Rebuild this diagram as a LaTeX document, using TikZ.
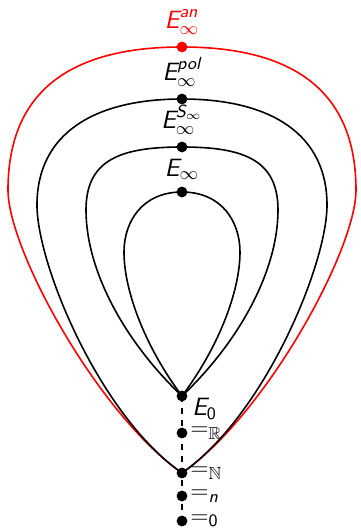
\documentclass[tikz,border=0pt]{standalone}
\usepackage{amsmath,amssymb}
\usepackage{tikz}
\usetikzlibrary{positioning}
\newcommand{\sv}[1]{\text{\sffamily\slshape #1}}
\newcommand{\su}[1]{\text{\sffamily #1}}
\tikzset{
  curve/.style={
    thick
  },
  lbl/.style={
    inner sep=1pt,
    font=\fontsize{12.5}{15}\selectfont
  },
  rlbl/.style={
    lbl,
    anchor=west
  }
}

\begin{document}
\begin{tikzpicture}[x=0.5pt, y=-0.5pt]
  \useasboundingbox (-182,0) rectangle (178,531);
  % points on the axis
  \coordinate (Ean) at (0,47);
  \coordinate (Epol) at (0,99);
  \coordinate (ES) at (0,147);
  \coordinate (Einf) at (0,192);
  \coordinate (E0) at (0,396);
  \coordinate (R) at (0,433);
  \coordinate (N) at (0,473);
  \coordinate (n) at (0,496);
  \coordinate (z0) at (0,521);

  % loops
  \draw[curve, red] (N) .. controls (-84,414) and (-174,250) .. (-174,190)
    .. controls (-174,90) and (-110,47) .. (Ean)
    .. controls (110,47) and (174,90) .. (174,190)
    .. controls (174,250) and (84,414) .. (N);
  \draw[curve] (N) .. controls (-82,416) and (-145,265) .. (-145,205)
    .. controls (-145,135) and (-90,99) .. (Epol)
    .. controls (90,99) and (145,135) .. (145,205)
    .. controls (145,265) and (82,416) .. (N);
  \draw[curve] (E0) .. controls (-58,341) and (-96,270) .. (-96,210)
    .. controls (-96,160) and (-62,147) .. (ES)
    .. controls (62,147) and (96,160) .. (96,210)
    .. controls (96,270) and (58,341) .. (E0);
  \draw[curve] (E0) .. controls (-36,348) and (-58,292) .. (-58,252)
    .. controls (-58,222) and (-40,192) .. (Einf)
    .. controls (40,192) and (58,222) .. (58,252)
    .. controls (58,292) and (36,348) .. (E0);

  \draw[thick, dashed] (E0) -- (z0);

  \foreach \p in {Epol,ES,Einf,E0,R,N,n,z0}
    \fill (\p) circle (2.7pt);
  \fill[red] (Ean) circle (2.7pt);

  % labels
  \node[lbl, red, above=5pt of Ean] (lan) {$\sv{E}^{\sv{an}}_\infty$};
  \node[lbl, above=5pt of Epol] (lpol) {$\sv{E}^{\sv{pol}}_\infty$};
  \node[lbl, above=5pt of ES] (lS) {$\sv{E}^{\sv{S}_\infty}_\infty$};
  \node[lbl, above=5pt of Einf] (linf) {$\sv{E}_\infty$};
  \node[lbl, below right=0pt and 4pt of E0] (lE0) {$\sv{E}_{\su{0}}$};
  \node[rlbl, right=3pt of R] (lR) {$=_{\mathbb{R}}$};
  \node[rlbl, right=3pt of N] (lN) {$=_{\mathbb{N}}$};
  \node[rlbl, right=3pt of n] (ln) {$=_{\sv{n}}$};
  \node[rlbl, right=3pt of z0] (l0) {$=_{\su{0}}$};
\end{tikzpicture}
\end{document}
